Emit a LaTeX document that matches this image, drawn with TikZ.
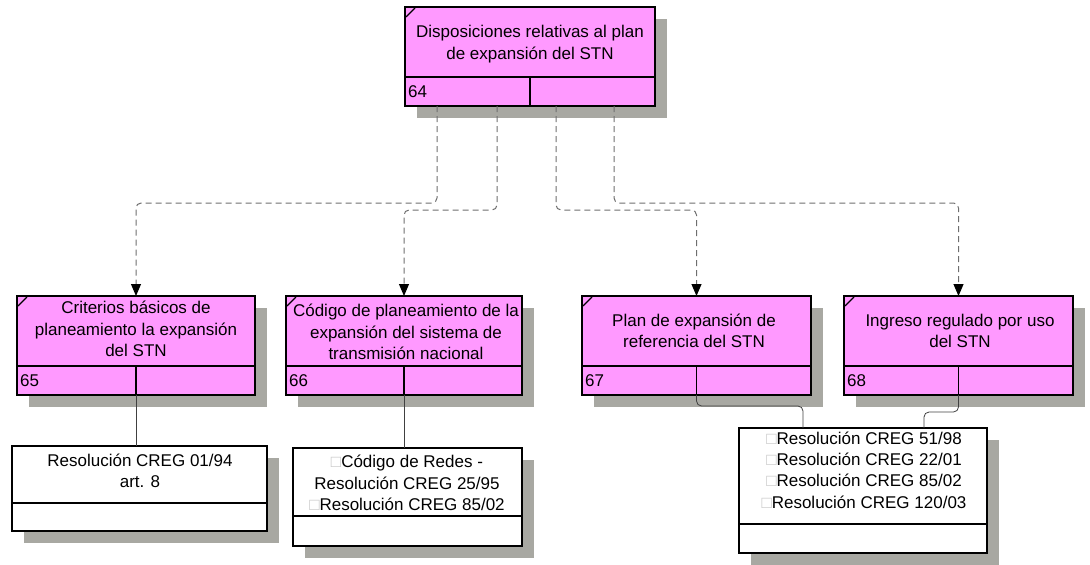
\documentclass[tikz,border=0pt]{standalone}
\usepackage{fontspec}
\setmainfont{Liberation Sans}
\usetikzlibrary{arrows.meta,calc,shadows}
\definecolor{boxpink}{RGB}{255,153,255}
\definecolor{shadegray}{RGB}{168,168,162}
\definecolor{dashgray}{RGB}{110,110,110}
\newcommand{\sqm}{{\color{black!22}□}}
\tikzset{
  card/.style={draw=black, line width=1.8pt, rectangle, inner sep=0pt, outer sep=0pt, anchor=north west,
    drop shadow={shadow xshift=12pt, shadow yshift=-12pt, fill=shadegray, opacity=1}},
  sepline/.style={draw=black, line width=1.8pt},
  txt/.style={align=center, font=\fontsize{17}{21.3}\selectfont, inner sep=0pt},
  numtxt/.style={anchor=west, font=\fontsize{17}{21.3}\selectfont, inner sep=0pt},
  dep/.style={draw=dashgray, line width=1pt, dash pattern=on 6pt off 4pt, rounded corners=5pt,
    -{Triangle[length=12pt,width=10pt,black]}},
  link/.style={draw=black!75, line width=0.8pt, rounded corners=5pt},
  cornermark/.style={draw=black, line width=1.2pt}
}
% name, left, top, width, height, number
\newcommand{\pinkcard}[6]{%
  \node[card, fill=boxpink, minimum width=#4pt, minimum height=#5pt] (#1) at (#2,#3) {};
  \draw[sepline] ($(#1.south west)+(0,-29)$) -- ($(#1.south east)+(0,-29)$);
  \draw[sepline] ($(#1.south)+(0,-29)$) -- (#1.south);
  \draw[cornermark] ($(#1.north west)+(1,10)$) -- ($(#1.north west)+(10,1)$);
  \node[numtxt] (#1num) at ($(#1.south west)+(3,-14.5)$) {#6};
}
% name, left, top, width, height, divider-from-bottom
\newcommand{\refcard}[6]{%
  \node[card, fill=white, minimum width=#4pt, minimum height=#5pt] (#1) at (#2,#3) {};
  \draw[sepline] ($(#1.south west)+(0,-#6)$) -- ($(#1.south east)+(0,-#6)$);
}
\begin{document}
\begin{tikzpicture}[x=1pt,y=-1pt]
\useasboundingbox (0,0) rectangle (1090,565);

\pinkcard{n64}{405}{7}{250}{99}{64}
\node[txt] (t64) at (530,44) {Disposiciones relativas al plan\\de expansión del STN};

\pinkcard{n65}{17}{296}{238}{99}{65}
\node[txt] (t65) at (136,329) {Criterios básicos de\\planeamiento la expansión\\del STN};

\pinkcard{n66}{286}{296}{236}{99}{66}
\node[txt] (t66) at (406,332) {Código de planeamiento de la\\expansión del sistema de\\transmisión nacional};

\pinkcard{n67}{582}{296}{229}{99}{67}
\node[txt] (t67) at (694,331) {Plan de expansión de\\referencia del STN};

\pinkcard{n68}{844}{296}{229}{99}{68}
\node[txt] (t68) at (960,331) {Ingreso regulado por uso\\del STN};

\refcard{rA}{12}{446}{255}{85}{28}
\node[txt] (tA) at (140,470.5) {Resolución CREG 01/94\\art. 8};

\refcard{rB}{293}{448}{229}{98}{30}
\node[txt] (tB) at (407,483) {\sqm Código de Redes -\\Resolución CREG 25/95\\\sqm Resolución CREG 85/02};

\refcard{rC}{739}{428}{248}{125}{29}
\node[txt] (tC) at (864,470) {\sqm Resolución CREG 51/98\\\sqm Resolución CREG 22/01\\\sqm Resolución CREG 85/02\\\sqm Resolución CREG 120/03};

% dependency connectors
\coordinate (lvA) at (0,203);
\coordinate (lvB) at (0,210);
\draw[dep] ([xshift=32pt]n64.south west) |- (lvA -| n65.north) -- (n65.north);
\draw[dep] ([xshift=92pt]n64.south west) |- (lvB -| n66.north) -- (n66.north);
\draw[dep] ([xshift=151pt]n64.south west) |- (lvB -| n67.north) -- (n67.north);
\draw[dep] ([xshift=209pt]n64.south west) |- (lvA -| n68.north) -- (n68.north);

% reference links
\draw[link] (n65.south) -- (n65.south |- rA.north);
\draw[link] (n66.south) -- (n66.south |- rB.north);
\coordinate (lk67) at (0,406);
\coordinate (lk68) at (0,412);
\coordinate (cx67) at (803,0);
\coordinate (cx68) at (924,0);
\draw[link] (n67.south) |- (lk67 -| cx67) -- (cx67 |- rC.north);
\draw[link] (n68.south) |- (lk68 -| cx68) -- (cx68 |- rC.north);
\end{tikzpicture}
\end{document}
